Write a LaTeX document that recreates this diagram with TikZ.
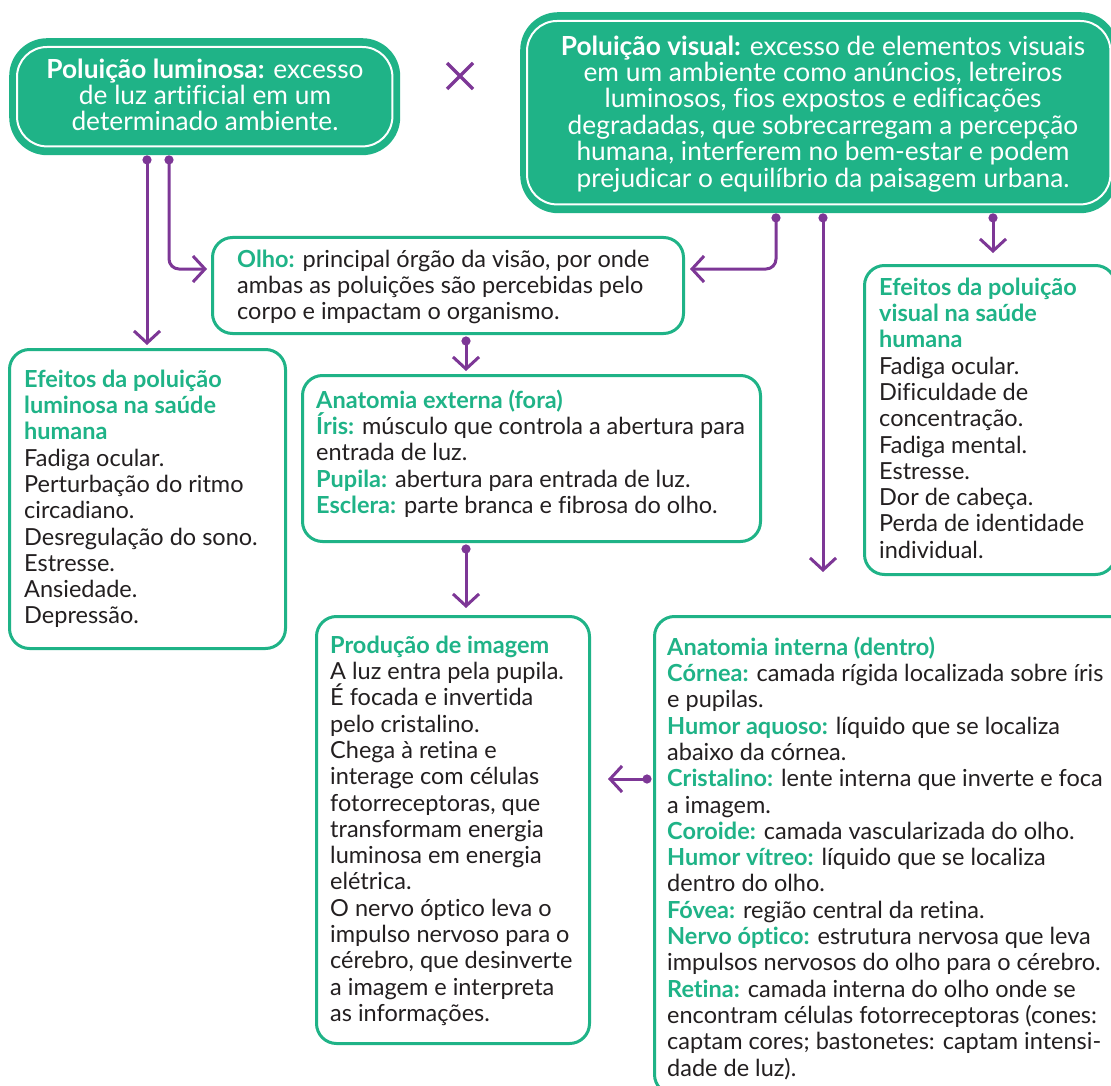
\documentclass[tikz,border=0pt]{standalone}
\usepackage{fontspec}
\setmainfont{Lato}[Ligatures=NoCommon]
\usetikzlibrary{arrows.meta,calc}
\definecolor{vd}{RGB}{31,179,135}
\definecolor{rx}{RGB}{125,55,150}
\definecolor{tx}{RGB}{35,31,32}
\newcommand{\hd}[1]{\textbf{\color{vd}#1}}
\newcommand{\st}{\rule{0pt}{25pt}}
\begin{document}
\begin{tikzpicture}[x=1pt,y=-1pt,
  txt/.style={inner sep=0pt, align=left, anchor=north west, font=\fontsize{23.5}{26.3}\selectfont, text=tx},
  ctxt/.style={inner sep=0pt, align=center, anchor=north, font=\fontsize{26.3}{26.4}\selectfont, text=white},
  wbox/.style={draw=vd, line width=3pt, rectangle, rounded corners=20pt, fill=white, anchor=north west, inner sep=0pt},
  gbox/.style={fill=vd, rectangle, rounded corners=38pt, anchor=north west, inner sep=0pt},
  wline/.style={draw=white, line width=2pt, rounded corners=30pt},
  conn/.style={draw=rx, line width=3pt, rounded corners=10pt, {Circle[length=9pt]}-{Straight Barb[length=12pt,width=26pt,line width=3pt]}}
]
\useasboundingbox (0,0) rectangle (1111,1086);
\begin{scope}
\clip (0,0) rectangle (1111,1086);
% boxes
\node[gbox, minimum width=391pt, minimum height=117pt] (pl) at (9,38) {};
\draw[wline] ($(pl.north west)+(8,9)$) rectangle ($(pl.south east)+(-8,-9)$);
\node[gbox, minimum width=598pt, minimum height=201pt] (pv) at (520,12) {};
\draw[wline] ($(pv.north west)+(7,9)$) rectangle ($(pv.south east)+(-8,-9)$);
\node[wbox, minimum width=471pt, minimum height=96pt] (olho) at (211,236) {};
\node[wbox, minimum width=276pt, minimum height=299pt] (el) at (8,348) {};
\node[wbox, minimum width=458pt, minimum height=166pt] (ae) at (301,374) {};
\node[wbox, minimum width=273pt, minimum height=427pt] (pi) at (315,615) {};
\node[wbox, minimum width=478pt, minimum height=478pt] (ai) at (653,615) {};
\node[wbox, minimum width=251pt, minimum height=309pt] (ev) at (863,264) {};
% texts
\node[ctxt] (tpl) at (205,53) {\st\textbf{Poluição luminosa:} excesso\\de luz artificial em um\\determinado ambiente.};
\node[ctxt] (tpv) at (823,30) {\st\textbf{Poluição visual:} excesso de elementos visuais\\em um ambiente como anúncios, letreiros\\luminosos, fios expostos e edificações\\degradadas, que sobrecarregam a percepção\\humana, interferem no bem-estar e podem\\prejudicar o equilíbrio da paisagem urbana.};
\node[txt] (tolho) at (237,242) {\st\hd{Olho:} principal órgão da visão, por onde\\ambas as poluições são percebidas pelo\\corpo e impactam o organismo.};
\node[txt] (tel) at (24,362) {\st\hd{Efeitos da poluição}\\\hd{luminosa na saúde}\\\hd{humana}\\Fadiga ocular.\\Perturbação do ritmo\\circadiano.\\Desregulação do sono.\\Estresse.\\Ansiedade.\\Depressão.};
\node[txt] (tae) at (316,383) {\st\hd{Anatomia externa (fora)}\\\hd{Íris:} músculo que controla a abertura para\\entrada de luz.\\\hd{Pupila:} abertura para entrada de luz.\\\hd{Esclera:} parte branca e fibrosa do olho.};
\node[txt] (tpi) at (330,628) {\st\hd{Produção de imagem}\\A luz entra pela pupila.\\É focada e invertida\\pelo cristalino.\\Chega à retina e\\interage com células\\fotorreceptoras, que\\transformam energia\\luminosa em energia\\elétrica.\\O nervo óptico leva o\\impulso nervoso para o\\cérebro, que desinverte\\a imagem e interpreta\\as informações.};
\node[txt] (tai) at (667,630) {\st\hd{Anatomia interna (dentro)}\\\hd{Córnea:} camada rígida localizada sobre íris\\e pupilas.\\\hd{Humor aquoso:} líquido que se localiza\\abaixo da córnea.\\\hd{Cristalino:} lente interna que inverte e foca\\a imagem.\\\hd{Coroide:} camada vascularizada do olho.\\\hd{Humor vítreo:} líquido que se localiza\\dentro do olho.\\\hd{Fóvea:} região central da retina.\\\hd{Nervo óptico:} estrutura nervosa que leva\\impulsos nervosos do olho para o cérebro.\\\hd{Retina:} camada interna do olho onde se\\encontram células fotorreceptoras (cones:\\captam cores; bastonetes: captam intensi-\\dade de luz).};
\node[txt] (tev) at (879,270) {\st\hd{Efeitos da poluição}\\\hd{visual na saúde}\\\hd{humana}\\Fadiga ocular.\\Dificuldade de\\concentração.\\Fadiga mental.\\Estresse.\\Dor de cabeça.\\Perda de identidade\\individual.};
% times sign
\draw[rx, line width=3.5pt] (447,63) -- (473,89) (447,89) -- (473,63);
% connectors
\draw[conn] ($(pl.south west)+(138,0)$) -- ($(el.north west)+(139,-3)$);
\draw[conn] ($(pl.south west)+(160,0)$) |- ($(olho.north west)+(-4,33)$);
\draw[conn] ($(pv.south west)+(256,0)$) |- ($(olho.north east)+(5,33)$);
\draw[conn] ($(pv.south west)+(303,0)$) -- ($(ai.north west)+(170,-43)$);
\draw[conn] ($(pv.south west)+(473,0)$) -- ($(ev.north west)+(130,-11)$);
\draw[conn] ($(olho.south west)+(255,1.5)$) -- ($(ae.north west)+(165,-3)$);
\draw[conn] ($(ae.south west)+(165,1.5)$) -- ($(pi.north west)+(151,-7)$);
\draw[conn] ($(ai.north west)+(-1.5,164)$) -- ($(pi.north east)+(17,164)$);
\end{scope}
\end{tikzpicture}
\end{document}
